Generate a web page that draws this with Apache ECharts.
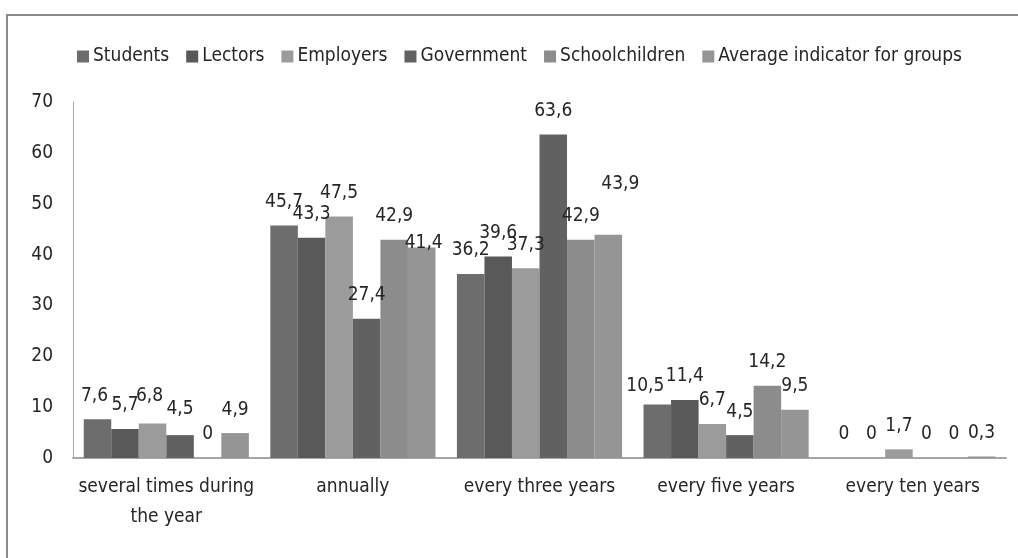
<!DOCTYPE html>
<html>
<head>
<meta charset="utf-8">
<title>Frequency chart</title>
<script src="https://cdn.jsdelivr.net/npm/echarts@6/dist/echarts.min.js"></script>
<style>
  html, body { margin: 0; padding: 0; background: #fff; }
  #chart { width: 1018px; height: 558px; }
</style>
</head>
<body>
<div id="chart"></div>
<script>
const categories = [
  'several times during\nthe year',
  'annually',
  'every three years',
  'every five years',
  'every ten years'
]
const seriesNames = ['Students', 'Lectors', 'Employers', 'Government', 'Schoolchildren', 'Average indicator for groups']
const students = [7.6, 45.7, 36.2, 10.5, 0]
const lectors = [5.7, 43.3, 39.6, 11.4, 0]
const employers = [6.8, 47.5, 37.3, 6.7, 1.7]
const government = [4.5, 27.4, 63.6, 4.5, 0]
const schoolchildren = [0, 42.9, 42.9, 14.2, 0]
const average = [4.9, 41.4, 43.9, 9.5, 0.3]
const yTicks = [0, 10, 20, 30, 40, 50, 60, 70]

const values = [students, lectors, employers, government, schoolchildren, average]
const colors = ['#6d6d6d', '#595959', '#9b9b9b', '#616161', '#8c8c8c', '#959595']

// label nudges (px) where the original moved labels to avoid overlap: 'series-category': [dx, dy]
const labelNudges = {
  '0-0': [-3, 0],
  '2-0': [-3, -4],
  '3-0': [0, -3],
  '5-1': [2, 19],
  '5-2': [12, -27],
  '0-3': [-12, 5]
}

const FONT = '"Liberation Sans Narrow", "DejaVu Sans Condensed", sans-serif'
const TEXT = '#262626'

const chart = echarts.init(document.getElementById('chart'))

const option = {
  animation: false,
  color: colors,
  textStyle: { fontFamily: FONT },
  graphic: [{
    type: 'rect',
    shape: { x: 7, y: 15, width: 1100, height: 600 },
    style: { fill: 'none', stroke: '#8a8a8a', lineWidth: 2 },
    silent: true
  }],
  legend: {
    left: 72,
    top: 42,
    itemWidth: 12,
    itemHeight: 12,
    itemGap: 17,
    icon: 'rect',
    textStyle: { fontFamily: FONT, fontSize: 19, color: TEXT, padding: [0, 0, 0, -1] },
    data: seriesNames
  },
  grid: { left: 73, right: 12, top: 102, bottom: 100 },
  xAxis: {
    type: 'category',
    data: categories,
    axisLine: { lineStyle: { color: '#a6a6a6', width: 2 } },
    axisTick: { show: false },
    axisLabel: {
      interval: 0,
      fontFamily: FONT,
      fontSize: 19,
      lineHeight: 30,
      margin: 14,
      color: TEXT
    }
  },
  yAxis: {
    type: 'value',
    min: yTicks[0],
    max: yTicks[yTicks.length - 1],
    interval: 10,
    axisLine: { show: true, lineStyle: { color: '#a6a6a6', width: 1 } },
    axisTick: { show: false },
    splitLine: { show: false },
    axisLabel: { fontFamily: FONT, fontSize: 19, color: TEXT, margin: 20 }
  },
  series: values.map((arr, i) => ({
    name: seriesNames[i],
    type: 'bar',
    data: arr.map((v, j) => {
      const nudge = labelNudges[i + '-' + j]
      return nudge ? { value: v, label: { offset: nudge } } : v
    }),
    barGap: '0%',
    barCategoryGap: '11.5%',
    label: {
      show: true,
      position: 'top',
      distance: 14,
      fontFamily: FONT,
      fontSize: 19,
      color: TEXT,
      formatter: p => String(p.value).replace('.', ',')
    }
  }))
}

chart.setOption(option)
</script>
</body>
</html>
